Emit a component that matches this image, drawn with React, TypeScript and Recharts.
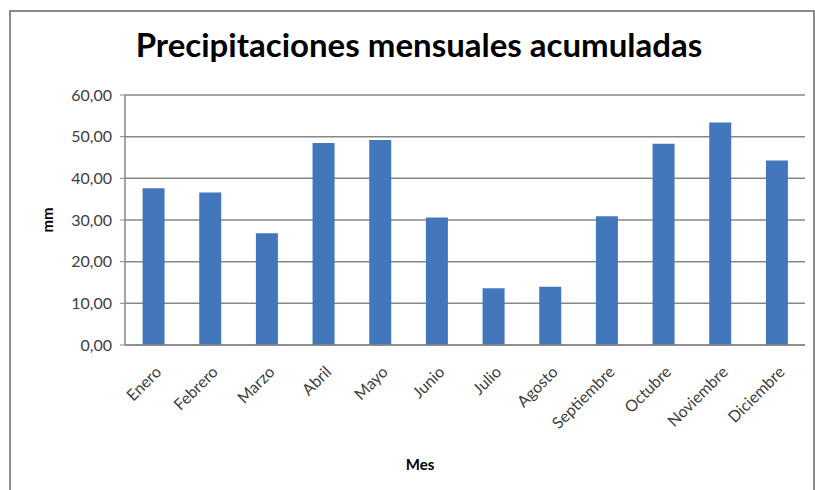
import { BarChart, Bar, XAxis, YAxis, CartesianGrid } from 'recharts';

const meses = ['Enero', 'Febrero', 'Marzo', 'Abril', 'Mayo', 'Junio', 'Julio', 'Agosto', 'Septiembre', 'Octubre', 'Noviembre', 'Diciembre'];
const precipitacion = [37.6, 36.6, 26.8, 48.5, 49.2, 30.6, 13.6, 14.0, 30.9, 48.3, 53.4, 44.3];
const yTicks = [0, 10, 20, 30, 40, 50, 60];

const data = meses.map((mes, i) => ({ mes, mm: precipitacion[i] }));

const fmt = (v: number) => v.toFixed(2).replace('.', ',');

const font = 'Lato, "Open Sans", sans-serif';

function MonthTick({ x, y, payload }: any) {
  return (
    <g transform={`translate(${x + 5},${y + 16})`}>
      <text
        x={0}
        y={0}
        dy="0.35em"
        textAnchor="end"
        transform="rotate(-45)"
        fill="#404040"
        fontSize={16}
        fontFamily={font}
      >
        {payload.value}
      </text>
    </g>
  );
}

export default function App() {
  return (
    <div style={{ position: 'absolute', left: 0, top: 0, width: 815, height: 490, overflow: 'hidden', background: '#fff', fontFamily: font }}>
      <div style={{ position: 'absolute', left: 9, top: 10, width: 802, height: 500, border: '2px solid #8a8a8a' }} />
      <div style={{ position: 'absolute', left: 0, top: 24, width: 838, textAlign: 'center', fontSize: 33, fontWeight: 700, color: '#000' }}>
        Precipitaciones mensuales acumuladas
      </div>
      <div style={{ position: 'absolute', left: 47, top: 220, transform: 'translate(-50%, -50%) rotate(-90deg)', fontSize: 15, fontWeight: 700, color: '#000' }}>
        mm
      </div>
      <div style={{ position: 'absolute', left: 420, top: 464, transform: 'translate(-50%, -50%)', fontSize: 15, fontWeight: 700, color: '#000' }}>
        Mes
      </div>
      <BarChart
        width={815}
        height={490}
        data={data}
        margin={{ top: 95, right: 10, bottom: 0, left: 45 }}
        barCategoryGap="31%"
        style={{ position: 'absolute', left: 0, top: 0 }}
      >
        <CartesianGrid horizontal vertical={false} stroke="#878787" strokeWidth={1.5} />
        <XAxis
          dataKey="mes"
          height={145}
          interval={0}
          tick={<MonthTick />}
          tickLine={false}
          axisLine={{ stroke: '#878787', strokeWidth: 1.5 }}
        />
        <YAxis
          width={80}
          domain={[0, 60]}
          ticks={yTicks}
          tickFormatter={fmt}
          tickSize={5}
          tickMargin={8}
          tick={{ fill: '#404040', fontSize: 16, fontFamily: font }}
          axisLine={{ stroke: '#878787', strokeWidth: 1.5 }}
          tickLine={{ stroke: '#878787' }}
        />
        <Bar dataKey="mm" fill="#4377bb" isAnimationActive={false} />
      </BarChart>
    </div>
  );
}
